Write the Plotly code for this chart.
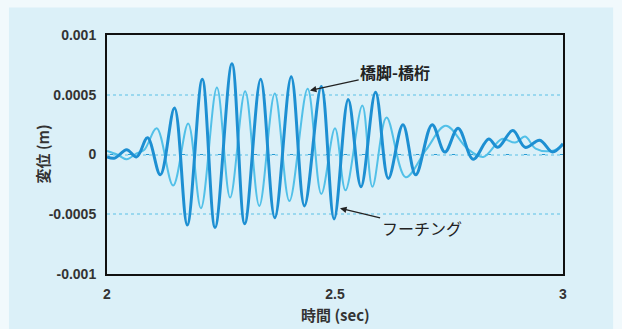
import plotly.graph_objects as go

# Footing response (フーチング): time [s] and displacement [m] at each turning point
footing_t = [2.000, 2.017, 2.043, 2.065, 2.089, 2.117, 2.148, 2.176, 2.209, 2.237,
             2.274, 2.302, 2.337, 2.368, 2.404, 2.433, 2.470, 2.498, 2.529, 2.557,
             2.589, 2.617, 2.649, 2.677, 2.713, 2.741, 2.770, 2.803, 2.837, 2.857,
             2.890, 2.917, 2.949, 2.977, 3.000]
footing_d = [-0.00002, -0.00003, 0.00004, -0.00002, 0.00014, -0.00017, 0.00039, -0.00059, 0.00063, -0.00061,
             0.00076, -0.00058, 0.00063, -0.00053, 0.00065, -0.00043, 0.00057, -0.00054, 0.00046, -0.00027,
             0.00052, -0.00020, 0.00025, -0.00017, 0.00025, 0.00002, 0.00022, -0.00004, 0.00013, 0.00006,
             0.00020, 0.00006, 0.00012, 0.00002, 0.00009]

# Pier - girder relative response (橋脚-橋桁)
pier_t = [2.000, 2.022, 2.043, 2.065, 2.082, 2.109, 2.145, 2.178, 2.206, 2.241,
          2.270, 2.303, 2.334, 2.368, 2.400, 2.440, 2.470, 2.500, 2.523, 2.560,
          2.582, 2.613, 2.655, 2.700, 2.743, 2.790, 2.825, 2.866, 2.895, 2.917,
          2.940, 2.975, 3.000]
pier_d = [0.00003, 0.00000, -0.00004, 0.00001, 0.00004, 0.00022, -0.00026, 0.00026, -0.00045, 0.00056,
          -0.00036, 0.00053, -0.00043, 0.00051, -0.00039, 0.00055, -0.00033, 0.00022, -0.00030, 0.00041,
          -0.00027, 0.00031, -0.00019, 0.00004, 0.00024, 0.00005, -0.00002, 0.00013, 0.00010, 0.00015,
          0.00005, 0.00003, 0.00008]

y_ticks = [-0.001, -0.0005, 0, 0.0005, 0.001]
y_tick_text = ["-0.001", "-0.0005", "0", "0.0005", "0.001"]
x_ticks = [2, 2.5, 3]
x_tick_text = ["2", "2.5", "3"]

DARK = "#1d8fd2"
LIGHT = "#52c0e8"
JP = "Noto Sans CJK JP"
NUM = "Liberation Sans"

fig = go.Figure()
fig.add_trace(go.Scatter(x=pier_t, y=pier_d, mode="lines", name="橋脚-橋桁",
                         line=dict(color=LIGHT, width=2, shape="spline", smoothing=1.0)))
fig.add_trace(go.Scatter(x=footing_t, y=footing_d, mode="lines", name="フーチング",
                         line=dict(color=DARK, width=3, shape="spline", smoothing=1.0)))

# dashed zero reference line
fig.add_shape(type="line", xref="x", yref="y", x0=2, x1=3, y0=0, y1=0,
              line=dict(color="#2a9ad2", width=1.2, dash="dash"), layer="below")

# tinted panel behind the chart
fig.add_shape(type="rect", xref="paper", yref="paper", x0=-0.215, x1=1.11, y0=-0.24, y1=1.115,
              fillcolor="#dbf0f8", line=dict(width=0), layer="below")

# series labels with leader arrows
fig.add_annotation(x=2.445, y=0.000536, ax=2.632, ay=0.000690, xref="x", yref="y",
                   axref="x", ayref="y", text="<b>橋脚-橋桁</b>", showarrow=True,
                   arrowhead=2, arrowsize=1, arrowwidth=1.3, arrowcolor="#222",
                   font=dict(family=JP, size=16, color="#222"))
fig.add_annotation(x=2.511, y=-0.00045, ax=2.690, ay=-0.000614, xref="x", yref="y",
                   axref="x", ayref="y", text="フーチング", showarrow=True,
                   arrowhead=2, arrowsize=1, arrowwidth=1.3, arrowcolor="#222",
                   font=dict(family=JP, size=16, color="#222"))

# axis titles
fig.add_annotation(x=-0.1425, y=0.5, xref="paper", yref="paper", text="<b>変位 (m)</b>",
                   textangle=-90, showarrow=False, xanchor="center", yanchor="middle",
                   font=dict(family=JP, size=15, color="#333"))
fig.add_annotation(x=0.5, y=-0.168, xref="paper", yref="paper", text="<b>時間 (sec)</b>",
                   showarrow=False, xanchor="center", yanchor="middle",
                   font=dict(family=JP, size=15, color="#333"))

fig.update_layout(
    width=622, height=329,
    margin=dict(l=107, r=59, t=35, b=55),
    paper_bgcolor="#f1f9fc",
    plot_bgcolor="#ffffff",
    showlegend=False,
    xaxis=dict(range=[2, 3], tickvals=x_ticks, ticktext=x_tick_text,
               showgrid=False, zeroline=False, showline=True, mirror=True,
               linecolor="#111", linewidth=2, ticks="", ticklabelstandoff=6,
               tickfont=dict(family=NUM, size=14, color="#333", weight="bold")),
    yaxis=dict(range=[-0.001, 0.001], tickvals=y_ticks, ticktext=y_tick_text,
               showgrid=True, gridcolor="#9ad8ef", griddash="dot", gridwidth=1.5,
               zeroline=False, showline=True, mirror=True,
               linecolor="#111", linewidth=2, ticks="", ticklabelstandoff=6,
               tickfont=dict(family=NUM, size=14, color="#333", weight="bold")),
)

fig.write_html("out.html")
